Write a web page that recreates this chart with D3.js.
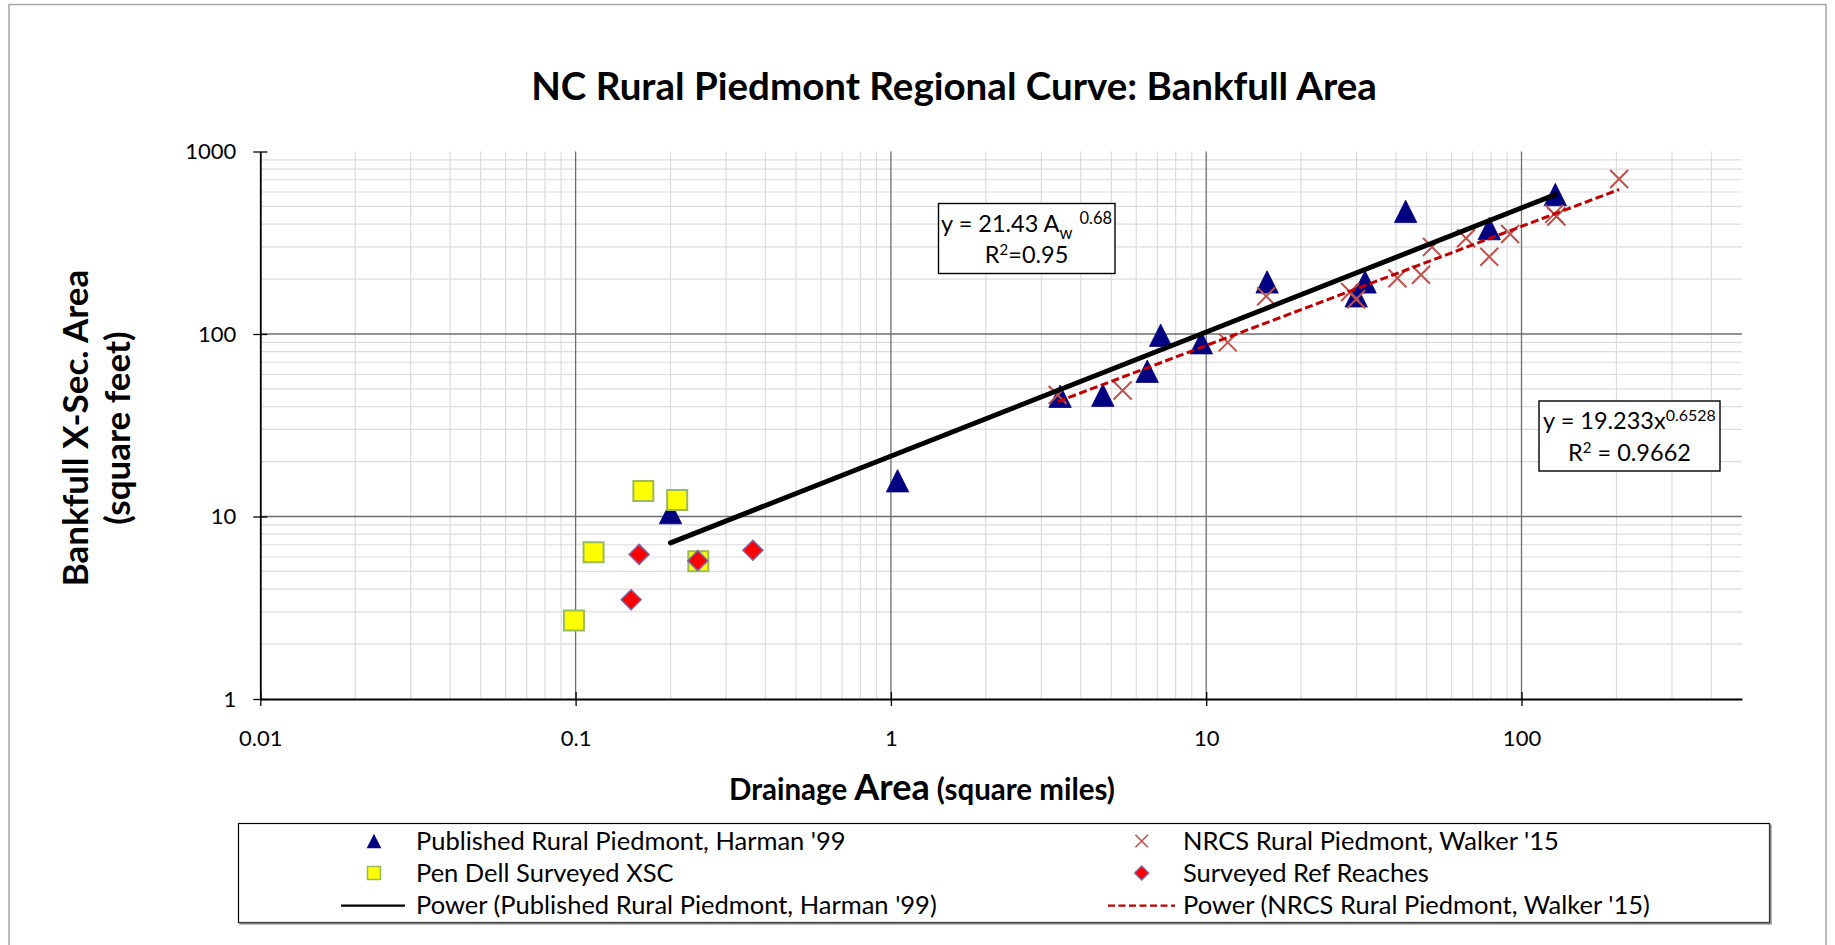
<!DOCTYPE html>
<html><head><meta charset="utf-8">
<script src="https://cdn.jsdelivr.net/npm/d3@7"></script>
<style>
body{margin:0;background:#fff;}
svg{display:block;}
text{font-family:Lato,"Open Sans",sans-serif;fill:#000;}
</style>
</head><body>
<svg id="c" width="1835" height="945"></svg>
<script>
// ---------- data ----------
const harmanX = [0.2, 1.05, 3.44, 4.7, 6.5, 7.17, 9.65, 15.6, 29.9, 31.9, 42.9, 79, 128];
const harmanY = [10.5, 15.7, 45.6, 46.2, 62.5, 98.5, 89.6, 193, 162, 193, 470, 378, 581];
const nrcsX = [3.38, 5.43, 11.7, 15.5, 28.6, 29.9, 40.4, 48, 52, 66.7, 79, 92, 127, 129, 204];
const nrcsY = [46.3, 49, 90, 161, 170, 155, 202, 211, 300, 335, 265, 353, 455, 440, 707];
const penDellX = [0.0988, 0.114, 0.164, 0.21, 0.245];
const penDellY = [2.69, 6.37, 13.8, 12.3, 5.68];
const refX = [0.15, 0.159, 0.244, 0.365];
const refY = [3.5, 6.2, 5.73, 6.53];
const harmanFit = [21.43, 0.68];     // coefficient, exponent
const nrcsFit = [19.233, 0.6528];
const xTicks = [0.01, 0.1, 1, 10, 100];
const yTicks = [1, 10, 100, 1000];
const xDomain = [0.01, 500];
const yDomain = [1, 1000];
const legendLabels = ["Published Rural Piedmont, Harman '99", "Pen Dell Surveyed XSC", "Power (Published Rural Piedmont, Harman '99)",
                      "NRCS Rural Piedmont, Walker '15", "Surveyed Ref Reaches", "Power (NRCS Rural Piedmont, Walker '15)"];

// ---------- layout ----------
const svg = d3.select('#c');
const L = 260.3, R = 1741.9, T = 151.5, B = 699;
const x = d3.scaleLog().domain(xDomain).range([L, R]);
const y = d3.scaleLog().domain(yDomain).range([B, T]);

// outer frame
svg.append('rect').attr('x', 9).attr('y', 4.5).attr('width', 1817).attr('height', 1000)
  .attr('fill', 'none').attr('stroke', '#a6a6a6').attr('stroke-width', 1.5);

// title
svg.append('text').attr('x', 954).attr('y', 100).attr('text-anchor', 'middle')
  .style('font-weight', 'bold').style('font-size', '38.5px')
  .text('NC Rural Piedmont Regional Curve: Bankfull Area');

// minor gridlines
const minorX = [], minorY = [];
xTicks.forEach(d => { for (let k = 2; k <= 9; k++) { const v = k * d; if (v < xDomain[1]) minorX.push(v); } });
yTicks.slice(0, -1).forEach(d => { for (let k = 2; k <= 9; k++) minorY.push(k * d); });
const g = svg.append('g');
g.selectAll('.mx').data(minorX).join('line')
  .attr('x1', d => x(d)).attr('x2', d => x(d)).attr('y1', T).attr('y2', B)
  .attr('stroke', '#dcdcdc').attr('stroke-width', 1.2);
g.selectAll('.my').data(minorY).join('line')
  .attr('x1', L).attr('x2', R).attr('y1', d => y(d)).attr('y2', d => y(d))
  .attr('stroke', '#dcdcdc').attr('stroke-width', 1.2);
// major gridlines
g.selectAll('.Mx').data(xTicks.slice(1)).join('line')
  .attr('x1', d => x(d)).attr('x2', d => x(d)).attr('y1', T).attr('y2', B)
  .attr('stroke', '#6e6e6e').attr('stroke-width', 1.3);
g.selectAll('.My').data(yTicks.slice(1, -1)).join('line')
  .attr('x1', L).attr('x2', R).attr('y1', d => y(d)).attr('y2', d => y(d))
  .attr('stroke', '#6e6e6e').attr('stroke-width', 1.3);

// axes
const xAxis = d3.axisBottom(x).tickValues(xTicks).tickFormat(d3.format('~g')).tickSizeInner(7).tickSizeOuter(0).tickPadding(24);
const yAxis = d3.axisLeft(y).tickValues(yTicks).tickFormat(d3.format('~g')).tickSizeInner(7).tickSizeOuter(0).tickPadding(17);
const gx = svg.append('g').attr('transform', `translate(0,${B})`).call(xAxis);
const gy = svg.append('g').attr('transform', `translate(${L},0)`).call(yAxis);
[gx, gy].forEach(a => {
  a.select('.domain').attr('stroke', '#000').attr('stroke-width', 1.8);
  a.selectAll('.tick line').attr('stroke', '#000').attr('stroke-width', 1.3);
  a.selectAll('.tick text').style('font-family', 'Lato, sans-serif').style('font-size', '22px').attr('fill', '#000');
});
// cross ticks (extend inside too)
gx.selectAll('.tick line').attr('y1', -7);
gy.selectAll('.tick line').attr('x1', 7);
gx.selectAll('.tick text').attr('dy', '0.71em');

// axis titles
const yl = svg.append('text').attr('transform', 'rotate(-90)').attr('text-anchor', 'middle')
  .style('font-weight', 'bold').style('font-size', '35px');
yl.append('tspan').attr('x', -428).attr('y', 88).text('Bankfull X-Sec. Area');
yl.append('tspan').attr('x', -428).attr('y', 130).text('(square feet)');

const xl = svg.append('text').attr('x', 922).attr('y', 800).attr('text-anchor', 'middle').style('font-weight', 'bold');
xl.append('tspan').style('font-size', '29.5px').text('Drainage ');
xl.append('tspan').style('font-size', '36px').text('Area');
xl.append('tspan').style('font-size', '29.5px').text(' (square miles)');

// ---------- marks ----------
const tri = s => `M0,${-s}L${s},${s}L${-s},${s}Z`;
const dia = s => `M0,${-s}L${s},0L0,${s}L${-s},0Z`;
const cross = s => `M${-s},${-s}L${s},${s}M${-s},${s}L${s},${-s}`;
const sq = s => `M${-s},${-s}H${s}V${s}H${-s}Z`;

const plot = svg.append('g');
plot.selectAll('.h').data(harmanX.map((d, i) => [d, harmanY[i]])).join('path')
  .attr('transform', d => `translate(${x(d[0])},${y(d[1])})`).attr('d', tri(11.2))
  .attr('fill', '#000080').attr('stroke', '#000080').attr('stroke-width', 0.8);
plot.selectAll('.n').data(nrcsX.map((d, i) => [d, nrcsY[i]])).join('path')
  .attr('transform', d => `translate(${x(d[0])},${y(d[1])})`).attr('d', cross(9))
  .attr('fill', 'none').attr('stroke', '#c0504d').attr('stroke-width', 2);
plot.selectAll('.p').data(penDellX.map((d, i) => [d, penDellY[i]])).join('path')
  .attr('transform', d => `translate(${x(d[0])},${y(d[1])})`).attr('d', sq(10))
  .attr('fill', '#ffff00').attr('stroke', '#9bbb59').attr('stroke-width', 2);
plot.selectAll('.r').data(refX.map((d, i) => [d, refY[i]])).join('path')
  .attr('transform', d => `translate(${x(d[0])},${y(d[1])})`).attr('d', dia(10))
  .attr('fill', '#ff0000').attr('stroke', '#8064a2').attr('stroke-width', 1.5);

// trend lines (power fits over each series' x range)
const line = d3.line().x(d => x(d[0])).y(d => y(d[1]));
const fitPts = (xs, f) => d3.extent(xs).map(v => [v, f[0] * Math.pow(v, f[1])]);
plot.append('path').attr('d', line(fitPts(harmanX, harmanFit)))
  .attr('stroke', '#000').attr('stroke-width', 5).attr('stroke-linecap', 'round').attr('fill', 'none');
plot.append('path').attr('d', line(fitPts(nrcsX, nrcsFit)))
  .attr('stroke', '#c00000').attr('stroke-width', 3).attr('stroke-dasharray', '8,3.5').attr('fill', 'none');

// ---------- equation boxes ----------
function box(x0, y0, w, h) {
  svg.append('rect').attr('x', x0).attr('y', y0).attr('width', w).attr('height', h)
    .attr('fill', '#fff').attr('stroke', '#000').attr('stroke-width', 1.4);
}
box(938.5, 203.5, 176.5, 70);
const e1 = svg.append('text').attr('x', 1026.6).attr('y', 232).attr('text-anchor', 'middle').style('font-size', '23.5px');
e1.append('tspan').text('y = ' + harmanFit[0] + ' A');
e1.append('tspan').attr('dy', 7).style('font-size', '16.5px').text('w');
e1.append('tspan').attr('dy', -15).attr('dx', 7).style('font-size', '16.5px').text(String(harmanFit[1]));
const e1b = svg.append('text').attr('x', 1026.6).attr('y', 263).attr('text-anchor', 'middle').style('font-size', '23.5px');
e1b.append('tspan').text('R');
e1b.append('tspan').attr('dy', -8).style('font-size', '15px').text('2');
e1b.append('tspan').attr('dy', 8).text('=0.95');

box(1539, 401, 181, 70);
const e2 = svg.append('text').attr('x', 1629.5).attr('y', 428.5).attr('text-anchor', 'middle').style('font-size', '23.5px');
e2.append('tspan').text('y = ' + nrcsFit[0] + 'x');
e2.append('tspan').attr('dy', -8).style('font-size', '16px').text(String(nrcsFit[1]));
const e2b = svg.append('text').attr('x', 1629.5).attr('y', 460.5).attr('text-anchor', 'middle').style('font-size', '23.5px');
e2b.append('tspan').text('R');
e2b.append('tspan').attr('dy', -8).style('font-size', '15px').text('2');
e2b.append('tspan').attr('dy', 8).text(' = 0.9662');

// ---------- legend ----------
svg.append('rect').attr('x', 238.5).attr('y', 823.5).attr('width', 1531).attr('height', 99)
  .attr('fill', '#fff').attr('stroke', '#000').attr('stroke-width', 1.2);
svg.append('path').attr('d', 'M239,923.6H1770.6V824.5').attr('fill', 'none').attr('stroke', '#7f7f7f').attr('stroke-width', 2);
const rowsY = [841, 873, 905.7];
const lg = svg.append('g');
const cols = [{mx: 374, lx0: 341, lx1: 405, tx: 416}, {mx: 1141.7, lx0: 1108, lx1: 1175, tx: 1183}];
lg.append('path').attr('transform', `translate(${cols[0].mx},${rowsY[0]})`).attr('d', tri(7.3)).attr('fill', '#000080');
lg.append('path').attr('transform', `translate(${cols[0].mx},${rowsY[1]})`).attr('d', sq(6.5))
  .attr('fill', '#ffff00').attr('stroke', '#9bbb59').attr('stroke-width', 1.6);
lg.append('line').attr('x1', cols[0].lx0).attr('x2', cols[0].lx1).attr('y1', rowsY[2]).attr('y2', rowsY[2])
  .attr('stroke', '#000').attr('stroke-width', 2.2);
lg.append('path').attr('transform', `translate(${cols[1].mx},${rowsY[0]})`).attr('d', cross(6.3))
  .attr('stroke', '#c0504d').attr('stroke-width', 1.6).attr('fill', 'none');
lg.append('path').attr('transform', `translate(${cols[1].mx},${rowsY[1]})`).attr('d', dia(7))
  .attr('fill', '#ff0000').attr('stroke', '#8064a2').attr('stroke-width', 1.4);
lg.append('line').attr('x1', cols[1].lx0).attr('x2', cols[1].lx1).attr('y1', rowsY[2]).attr('y2', rowsY[2])
  .attr('stroke', '#c00000').attr('stroke-width', 2.2).attr('stroke-dasharray', '7,3.5');
legendLabels.forEach((t, i) => {
  const c = cols[Math.floor(i / 3)], r = i % 3;
  lg.append('text').attr('x', c.tx).attr('y', rowsY[r] + 8.6).style('font-size', '25.5px').text(t);
});
</script>
</body></html>
